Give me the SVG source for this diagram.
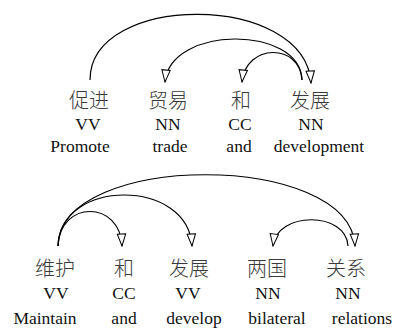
<svg xmlns="http://www.w3.org/2000/svg" width="399" height="331" viewBox="0 0 399 331">
<style>
.zh{font-family:"Noto Sans CJK SC","Noto Sans CJK JP",sans-serif;font-size:20px;font-weight:300;fill:#3a3a3a;text-anchor:middle}
.en{font-family:"Liberation Serif",serif;font-size:17.5px;fill:#111;text-anchor:middle}
.arc{fill:none;stroke:#000;stroke-width:1.2;marker-end:url(#ah)}
</style>
<defs>
<marker id="ah" markerUnits="userSpaceOnUse" markerWidth="14" markerHeight="12" refX="13" refY="5" orient="auto" viewBox="0 0 14 10">
<path d="M1,0.8 L13,5 L1,9.2 Z" fill="#fff" stroke="#000" stroke-width="1"/>
</marker>
</defs>
<g id="connectors">
<path class="arc" d="M90,80 C90,-8 305,-8 311,83"/>
<path class="arc" d="M302,80 C300,25 170,25 165,82"/>
<path class="arc" d="M302,80 C300,43 246,43 242,82"/>
<path class="arc" d="M58,246 C60,200 120,200 122,246"/>
<path class="arc" d="M58,246 C60,178 188,178 192,246"/>
<path class="arc" d="M58,246 C60,151 350,151 355,246"/>
<path class="arc" d="M348,246 C346,211 277,211 273,246"/>
</g>
<g id="n1"><text class="zh" x="89" y="108">促进</text><text class="en" x="88" y="130">VV</text><text class="en" x="80" y="152">Promote</text></g>
<g id="n2"><text class="zh" x="168" y="108">贸易</text><text class="en" x="168" y="130">NN</text><text class="en" x="170" y="152">trade</text></g>
<g id="n3"><text class="zh" x="241" y="108">和</text><text class="en" x="240" y="130">CC</text><text class="en" x="239" y="152">and</text></g>
<g id="n4"><text class="zh" x="310" y="108">发展</text><text class="en" x="311" y="130">NN</text><text class="en" x="319" y="152">development</text></g>
<g id="m1"><text class="zh" x="55" y="276">维护</text><text class="en" x="56" y="299">VV</text><text class="en" x="45" y="324">Maintain</text></g>
<g id="m2"><text class="zh" x="124" y="276">和</text><text class="en" x="124" y="299">CC</text><text class="en" x="124" y="324">and</text></g>
<g id="m3"><text class="zh" x="189" y="276">发展</text><text class="en" x="188" y="299">VV</text><text class="en" x="194" y="324">develop</text></g>
<g id="m4"><text class="zh" x="267" y="276">两国</text><text class="en" x="268" y="299">NN</text><text class="en" x="277" y="324">bilateral</text></g>
<g id="m5"><text class="zh" x="346" y="276">关系</text><text class="en" x="348" y="299">NN</text><text class="en" x="362" y="324">relations</text></g>
</svg>
